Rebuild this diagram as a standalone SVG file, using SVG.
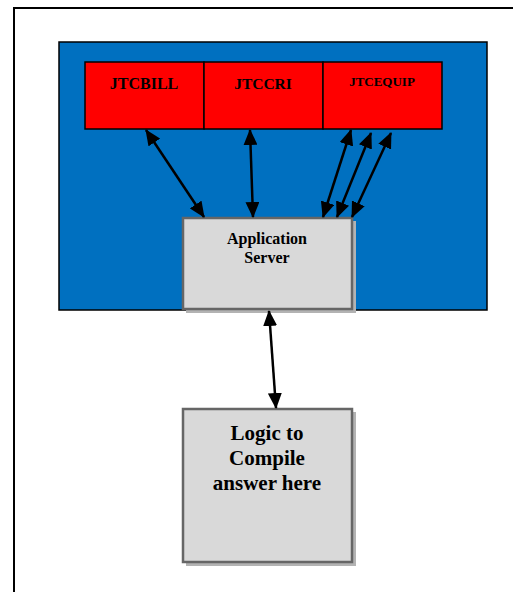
<svg xmlns="http://www.w3.org/2000/svg" width="513" height="592" viewBox="0 0 513 592">
<style>
.lbl{font-family:"Liberation Serif","Times New Roman",serif;font-weight:bold;fill:#000;text-anchor:middle}
.box{fill:#d9d9d9;stroke:#666;stroke-width:2.5}
.shadow{fill:#b3b3b3}
.red{fill:#ff0000;stroke:#000;stroke-width:1.5}
.conn{stroke:#000;stroke-width:2.5;fill:none;marker-start:url(#ah);marker-end:url(#ah)}
</style>
<defs>
<marker id="ah" markerUnits="userSpaceOnUse" markerWidth="16" markerHeight="14" viewBox="0 0 16 14" refX="15" refY="7" orient="auto-start-reverse">
<path d="M0,0 L16,7 L0,14 Z" fill="#000"/>
</marker>
</defs>
<rect width="513" height="592" fill="#fff"/>
<g id="frame"><rect x="14" y="8" width="520" height="600" fill="none" stroke="#000" stroke-width="2"/></g>
<g id="container"><rect x="59" y="42" width="428" height="268" fill="#0070c0" stroke="#000" stroke-width="1.5"/></g>
<g id="jtcbill"><rect class="red" x="85" y="62" width="119" height="67"/><text class="lbl" x="144" y="89" font-size="16">JTCBILL</text></g>
<g id="jtccri"><rect class="red" x="204" y="62" width="119" height="67"/><text class="lbl" x="263" y="89" font-size="15.5">JTCCRI</text></g>
<g id="jtcequip"><rect class="red" x="323" y="62" width="119" height="67"/><text class="lbl" x="382" y="86" font-size="13">JTCEQUIP</text></g>
<g id="appserver"><rect class="shadow" x="186" y="221" width="170" height="92"/><rect class="box" x="183" y="218" width="169" height="91"/><text class="lbl" x="267" y="244" font-size="16">Application</text><text class="lbl" x="267" y="263" font-size="16">Server</text></g>
<g id="logic"><rect class="shadow" x="186" y="412" width="170" height="154"/><rect class="box" x="183" y="409" width="169" height="153"/><text class="lbl" x="267" y="440" font-size="21">Logic to</text><text class="lbl" x="267" y="465" font-size="21">Compile</text><text class="lbl" x="267" y="490" font-size="21">answer here</text></g>
<g id="connectors">
<line class="conn" x1="146" y1="130" x2="204" y2="217"/>
<line class="conn" x1="250" y1="130" x2="253" y2="217"/>
<line class="conn" x1="351" y1="130" x2="323" y2="217"/>
<line class="conn" x1="371" y1="133" x2="337" y2="217"/>
<line class="conn" x1="391" y1="133" x2="352" y2="217"/>
<line class="conn" x1="269" y1="311" x2="276" y2="408"/>
</g>
</svg>
